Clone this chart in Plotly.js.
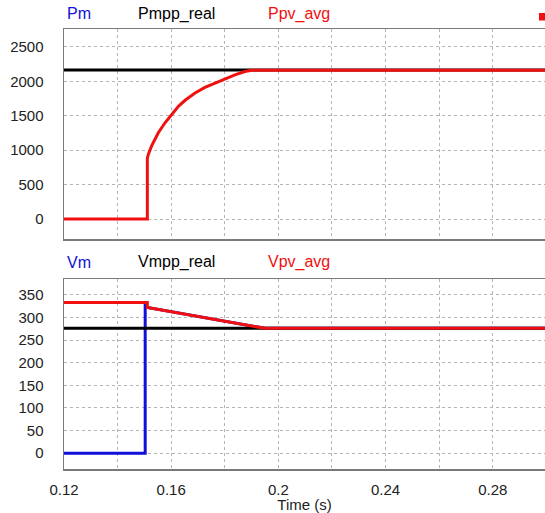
<!DOCTYPE html>
<html>
<head>
<meta charset="utf-8">
<script src="https://cdn.plot.ly/plotly-3.0.1.min.js"></script>
<style>html,body{margin:0;padding:0;background:#fff;}#chart{width:545px;height:513px;}</style>
</head>
<body>
<div id="chart"></div>
<script>
// ---- Data ----
// Top panel (power, W)
const tPpv   = [0.12, 0.1511, 0.1511, 0.1515, 0.1527, 0.1552, 0.1577, 0.1602, 0.1627, 0.1652, 0.1689, 0.1726, 0.1763, 0.1801, 0.1838, 0.1875, 0.1900, 0.2995];
const Ppv_avg = [0,    0,      885,    942,    1062,   1254,   1398,   1519,   1638,   1725,   1830,   1912,   1974,   2037,   2095,   2143,   2160,   2160];
const tPmpp  = [0.12, 0.2995];
const Pmpp_real = [2165, 2165];

// Bottom panel (voltage, V)
const tVpv    = [0.12, 0.1511, 0.1511, 0.195, 0.2995];
const Vpv_avg = [333,  333,    322,    276,   276];
const tVmpp   = [0.12, 0.2995];
const Vmpp_real = [276, 276];
const tVm = [0.12, 0.1503, 0.1503, 0.1511, 0.195, 0.2995];
const Vm  = [0,    0,      331,    322,    276,   276];

const xTickVals = [0.12, 0.16, 0.2, 0.24, 0.28];
const xTickText = ['0.12', '0.16', '0.2', '0.24', '0.28'];
const topLabels = ['Pm', 'Pmpp_real', 'Ppv_avg'];
const botLabels = ['Vm', 'Vmpp_real', 'Vpv_avg'];

const RED = '#f01010', BLUE = '#1010d8', BLACK = '#000000';
const FONT = 'Liberation Sans, Arial, sans-serif';

// Pm lies entirely underneath Ppv_avg in the reference, so only its label shows
const traces = [
  {x: tPmpp, y: Pmpp_real, xaxis: 'x', yaxis: 'y', mode: 'lines', line: {color: BLACK, width: 3}, name: topLabels[1]},
  {x: tPpv, y: Ppv_avg, xaxis: 'x', yaxis: 'y', mode: 'lines', line: {color: RED, width: 3}, name: topLabels[2]},
  {x: tVm, y: Vm, xaxis: 'x2', yaxis: 'y2', mode: 'lines', line: {color: BLUE, width: 3}, name: botLabels[0]},
  {x: tVmpp, y: Vmpp_real, xaxis: 'x2', yaxis: 'y2', mode: 'lines', line: {color: BLACK, width: 3}, name: botLabels[1]},
  {x: tVpv, y: Vpv_avg, xaxis: 'x2', yaxis: 'y2', mode: 'lines', line: {color: RED, width: 3}, name: botLabels[2]}
];

const gridCommon = {
  showgrid: true, gridcolor: '#b4b4b4', griddash: 'dot', gridwidth: 1,
  showline: true, linecolor: '#7a7a7a', linewidth: 1.5,
  zeroline: false, ticks: '',
  tickfont: {family: FONT, size: 15, color: '#222'}
};

const xCommon = Object.assign({}, gridCommon, {
  range: [0.12, 0.2995], tickmode: 'array', tickvals: xTickVals, ticktext: xTickText,
  mirror: true,
  minor: {dtick: 0.02, tick0: 0.12, showgrid: true, gridcolor: '#b4b4b4', griddash: 'dot', gridwidth: 1, ticks: ''}
});

const layout = {
  width: 545, height: 513,
  margin: {l: 64, r: 0, t: 29, b: 44},
  paper_bgcolor: '#fff', plot_bgcolor: '#fff',
  showlegend: false,
  font: {family: FONT, color: '#222'},
  xaxis: Object.assign({}, xCommon, {domain: [0, 1], anchor: 'y', showticklabels: false}),
  yaxis: Object.assign({}, gridCommon, {domain: [0.5227, 1], anchor: 'x', range: [-290, 2760], dtick: 500, tick0: 0, ticklabelstandoff: 16}),
  xaxis2: Object.assign({}, xCommon, {domain: [0, 1], anchor: 'y2', ticklabelstandoff: 6,
    title: {text: 'Time (s)', font: {family: FONT, size: 15, color: '#222'}, standoff: 1}}),
  yaxis2: Object.assign({}, gridCommon, {domain: [0, 0.4318], anchor: 'x2', range: [-35, 385], dtick: 50, tick0: 0, ticklabelstandoff: 16}),
  annotations: [
    {text: topLabels[0], x: 65, y: 14, color: BLUE},
    {text: topLabels[1], x: 136, y: 14, color: BLACK},
    {text: topLabels[2], x: 266, y: 14, color: RED},
    {text: botLabels[0], x: 65, y: 262, color: BLUE},
    {text: botLabels[1], x: 136, y: 262, color: BLACK},
    {text: botLabels[2], x: 266, y: 262, color: RED}
  ].map(a => ({
    text: a.text, xref: 'paper', yref: 'paper',
    x: (a.x - 64) / 481, y: (469 - a.y) / 440,
    xanchor: 'left', yanchor: 'middle', showarrow: false,
    font: {family: FONT, size: 16, color: a.color}
  })),
  shapes: [
    {type: 'rect', xref: 'paper', yref: 'paper',
     x0: (539 - 64) / 481, x1: (546 - 64) / 481, y0: (469 - 20.5) / 440, y1: (469 - 13) / 440,
     fillcolor: RED, line: {width: 0}}
  ]
};

Plotly.newPlot('chart', traces, layout, {staticPlot: true, displayModeBar: false});
</script>
</body>
</html>
